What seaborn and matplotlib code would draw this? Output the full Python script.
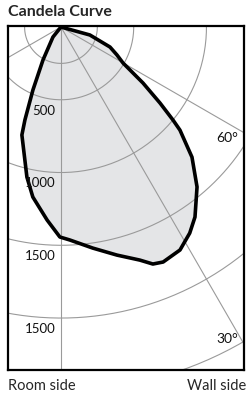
import numpy as np
import matplotlib
matplotlib.use("Agg")
import matplotlib.pyplot as plt
import seaborn as sns

# candela curve: angle from nadir (deg, + = wall side), intensity (cd)
angles = [90, 74.6, 67.8, 63.5, 59.9, 55.7, 52.5, 50.3, 49.1, 45.2, 40.4, 35.2, 32.0, 28.1,
          23.5, 21.2, 18.7, 13.8, 8.2, 2.4, -0.3, -4.1, -9.4, -12.8, -19.9, -21.2,
          -24.0, -28.6, -38.7, -90]
candela = [0, 206, 364, 430, 493, 682, 858, 1001, 1082, 1269, 1443, 1598, 1670, 1737,
           1761, 1747, 1691, 1614, 1535, 1465, 1443, 1330, 1184, 1057, 789, 685,
           474, 258, 88, 0]

ring_values = [250, 500, 1000, 1500, 2000, 2500]
ring_labels = ["500", "1000", "1500", "1500"]
ring_label_values = [500, 1000, 1500, 2000]
spoke_angles = [0, 30, 60, -60]
spoke_labels = {60: "60°", 30: "30°"}

sns.set_theme(style="white")
plt.rcParams['font.family'] = ['Lato', 'DejaVu Sans']

fig = plt.figure(figsize=(2.46, 3.96), dpi=100)
ax = fig.add_axes([8 / 246, 26 / 396, 236 / 246, 344 / 396])

xmin, xmax = -364, 1258
ymin, ymax = -2357, 7
ax.set_xlim(xmin, xmax)
ax.set_ylim(ymin, ymax)

th = np.radians(angles)
cx = np.array(candela) * np.sin(th)
cy = -np.array(candela) * np.cos(th)
ax.fill(cx, cy, color="#e4e5e7", zorder=1, lw=0)

grid_col = "#9a9a9a"
t = np.linspace(-np.pi, np.pi, 400)
for r in ring_values:
    ax.plot(r * np.sin(t), -r * np.cos(t), color=grid_col, lw=0.8, zorder=2)
for a in spoke_angles:
    ar = np.radians(a)
    ax.plot([0, 4000 * np.sin(ar)], [0, -4000 * np.cos(ar)], color=grid_col, lw=0.8, zorder=2)

sns.lineplot(x=cx, y=cy, sort=False, estimator=None, color="black", lw=2.6, ax=ax, zorder=3)
ax.lines[-1].set_solid_joinstyle("round")

for lab, v in zip(ring_labels, ring_label_values):
    ax.text(-38, -v - 75, lab, ha="right", va="center", fontsize=9.5, color="#111111", zorder=4)

for a, lab in spoke_labels.items():
    yedge = -xmax / np.tan(np.radians(a))
    off = -38 if a == 60 else 32
    ax.text(xmax - 40, yedge + off, lab, ha="right", va="center", fontsize=10,
            color="#111111", zorder=4)

ax.set_xticks([])
ax.set_yticks([])
for s in ax.spines.values():
    s.set_visible(True)
    s.set_color("black")
    s.set_linewidth(1.6)

fig.text(8 / 246, 1 - 12 / 396, "Candela Curve", ha="left", va="center",
         fontsize=11.5, fontweight="bold")
fig.text(8 / 246, 1 - 386 / 396, "Room side", ha="left", va="center", fontsize=10.5)
fig.text(246 / 246, 1 - 386 / 396, "Wall side", ha="right", va="center", fontsize=10.5)

fig.savefig("out.png", dpi=100)
